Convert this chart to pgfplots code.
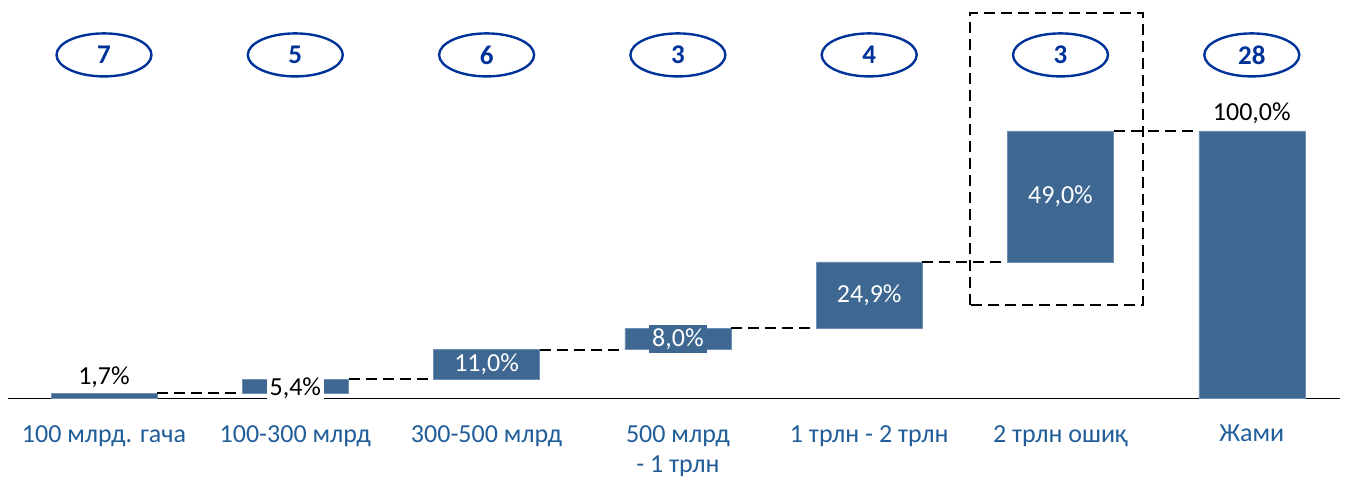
\documentclass[border=0pt]{standalone}
\usepackage{pgfplots}
\pgfplotsset{compat=1.18}
\usepackage{fontspec}
\setmainfont{Carlito}
\usetikzlibrary{shapes.geometric}
\definecolor{barblue}{HTML}{3E6892}
\definecolor{baredge}{HTML}{6F8FB3}
\definecolor{catblue}{HTML}{215E99}
\definecolor{ellblue}{HTML}{003399}
\begin{document}
\begin{tikzpicture}
\path[use as bounding box] (-8.35pt,-81pt) rectangle (1336.65pt,398pt);
\pgfplotsset{
  common/.style={
    at={(0,0)}, anchor=south west, scale only axis,
    width=1331.4pt, height=267pt,
    xmin=-0.5, xmax=6.46, ymin=0, ymax=100,
    clip=false,
  }
}
\begin{axis}[common,
  hide y axis, axis x line*=bottom,
  x axis line style={line width=0.9pt, black, -},
  xtick={0,1,2,3,4,5,6},
  xticklabels={100 млрд. гача,100-300 млрд,300-500 млрд,{500 млрд\\- 1 трлн},1 трлн - 2 трлн,2 трлн ошиқ,Жами},
  major tick length=0pt,
  xticklabel style={text=catblue, align=center, anchor=north, inner sep=0pt, yshift=-27pt,
    font=\fontsize{26}{30}\selectfont},
  ybar stacked, bar width=106pt,
]
\addplot[draw=none, fill=none] coordinates {(0,0) (1,1.7) (2,7.1) (3,18.1) (4,26.1) (5,51.0) (6,0)};
\addplot[fill=barblue, draw=baredge, line width=0.6pt] coordinates {(0,1.7) (1,5.4) (2,11.0) (3,8.0) (4,24.9) (5,49.0) (6,100)};
\end{axis}
\begin{axis}[common, axis lines=none, xtick=\empty, ytick=\empty]
\pgfplotsset{conn/.style={black, line width=2pt, dash pattern=on 11pt off 6pt, forget plot}}
\addplot[conn] coordinates {(0.2785,1.7) (0.7215,1.7)};
\addplot[conn] coordinates {(1.2785,7.1) (1.7215,7.1)};
\addplot[conn] coordinates {(2.2785,18.1) (2.7215,18.1)};
\addplot[conn] coordinates {(3.2785,26.1) (3.7215,26.1)};
\addplot[conn] coordinates {(4.2785,51.0) (4.7215,51.0)};
\addplot[conn] coordinates {(5.2785,100) (5.7215,100)};
% dashed box
\draw[black, line width=2pt, dash pattern=on 11pt off 6pt] (axis cs:4.527,34.8) rectangle (axis cs:5.431,144.2);
% value labels
\tikzset{val/.style={font=\fontsize{26}{30}\selectfont, inner sep=3pt}}
\node[val, text=black] at (axis cs:0,7.8) {1,7\%};
\node[val, text=black, fill=white] at (axis cs:1,3.8) {5,4\%};
\node[val, text=white, fill=barblue, inner sep=1.5pt] at (axis cs:2,12.6) {11,0\%};
\node[val, text=white, fill=barblue] at (axis cs:3,22.1) {8,0\%};
\node[val, text=white, fill=barblue] at (axis cs:4,38.55) {24,9\%};
\node[val, text=white, fill=barblue] at (axis cs:5,75.5) {49,0\%};
\node[val, text=black] at (axis cs:6,106.5) {100,0\%};
% count ellipses
\tikzset{ell/.style={ellipse, draw=ellblue, line width=2.4pt, minimum width=95pt, minimum height=43pt,
  inner sep=0pt, text=ellblue, font=\fontsize{27}{30}\selectfont\bfseries}}
\node[ell] at (axis cs:0,128.5) {7};
\node[ell] at (axis cs:1,128.5) {5};
\node[ell] at (axis cs:2,128.5) {6};
\node[ell] at (axis cs:3,128.5) {3};
\node[ell] at (axis cs:4,128.5) {4};
\node[ell] at (axis cs:5,128.5) {3};
\node[ell] at (axis cs:6,128.5) {28};
\end{axis}
\end{tikzpicture}
\end{document}
